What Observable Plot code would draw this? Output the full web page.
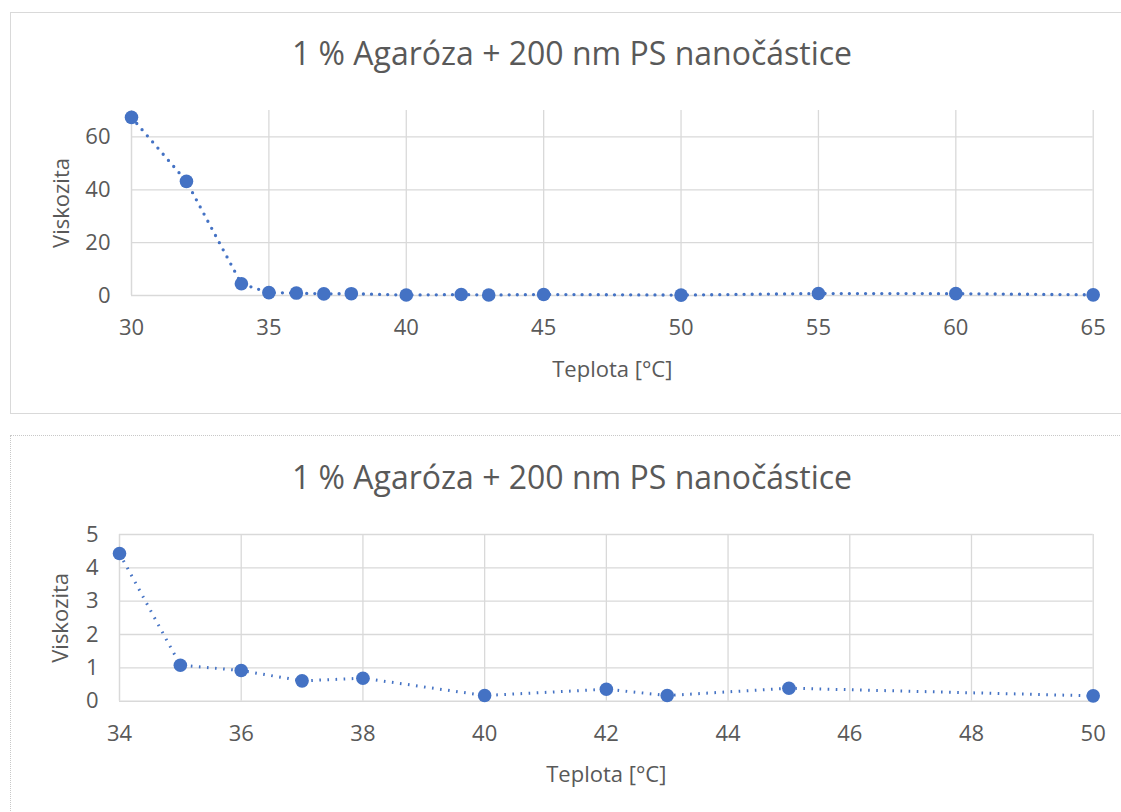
<!DOCTYPE html>
<html><head><meta charset="utf-8">
<script src="https://cdn.jsdelivr.net/npm/d3@7"></script>
<script src="https://cdn.jsdelivr.net/npm/@observablehq/plot@0.6"></script>
<style>
html,body{margin:0;padding:0;background:#fff;width:1121px;height:812px;overflow:hidden;position:relative;font-family:"Open Sans",sans-serif;}
#box1{position:absolute;left:10px;top:12px;width:1140px;height:400px;border:1px solid #d9d9d9;}
#box2{position:absolute;left:10px;top:435px;width:1140px;height:420px;border:1px dotted #c8c8c8;}
.title{position:absolute;left:10px;width:1124px;text-align:center;font-size:32px;line-height:32px;color:#595959;white-space:nowrap;}
.chart{position:absolute;left:0;}
</style></head><body>
<div id="box1"></div>
<div id="box2"></div>
<div class="title" style="top:36.6px">1 % Agaróza + 200 nm PS nanočástice</div>
<div class="title" style="top:460.6px">1 % Agaróza + 200 nm PS nanočástice</div>
<div class="chart" id="c1" style="top:90px"></div>
<div class="chart" id="c2" style="top:505px"></div>
<script>
// Data
const teplota   = [30, 32, 34, 35, 36, 37, 38, 40, 42, 43, 45, 50, 55, 60, 65];
const viskozita = [67.4, 43.2, 4.43, 1.08, 0.92, 0.61, 0.69, 0.17, 0.36, 0.17, 0.39, 0.16, 0.75, 0.7, 0.25];

const title = "1 % Agaróza + 200 nm PS nanočástice";
const xLabel = "Teplota [°C]";
const yLabel = "Viskozita";

// Top chart ticks
const xTicksTop = [30, 35, 40, 45, 50, 55, 60, 65];
const yTicksTop = [0, 20, 40, 60];
const yMaxTop = 70;
// Bottom chart ticks
const xTicksBottom = [34, 36, 38, 40, 42, 44, 46, 48, 50];
const yTicksBottom = [0, 1, 2, 3, 4, 5];

const data = teplota.map((t, i) => ({t, v: viskozita[i]}));
const dataBottom = data.filter(d => d.t >= xTicksBottom[0] && d.t <= xTicksBottom[xTicksBottom.length - 1]);

const BLUE = "#4472C4", GRID = "#d9d9d9", TEXT = "#595959";
const style = {fontFamily: "'Open Sans', sans-serif", fontSize: "22px", color: TEXT, background: "transparent", overflow: "visible"};

function chart({rows, xTicks, yTicks, yMax, gridY, height, mt, mb, ml, xLabelOffset, yLabelOffset, dash, lineWidth, linecap}) {
  return Plot.plot({
    width: 1121, height,
    marginLeft: ml, marginRight: 28.3, marginTop: mt, marginBottom: mb,
    style,
    x: {domain: [xTicks[0], xTicks[xTicks.length - 1]]},
    y: {domain: [0, yMax]},
    marks: [
      Plot.ruleY(gridY, {stroke: GRID, strokeWidth: 1.3}),
      Plot.ruleX(xTicks.slice(1), {stroke: GRID, strokeWidth: 1.3}),
      Plot.ruleY([yTicks[0]], {stroke: GRID, strokeWidth: 1.5}),
      Plot.ruleX([xTicks[0]], {stroke: GRID, strokeWidth: 1.5}),
      Plot.line(rows, {x: "t", y: "v", stroke: BLUE, strokeWidth: lineWidth, strokeDasharray: dash, strokeLinecap: linecap}),
      Plot.dot(rows, {x: "t", y: "v", r: 6.8, fill: BLUE, stroke: "none"}),
      Plot.axisX({ticks: xTicks, tickSize: 0, tickPadding: 24, tickFormat: d => String(d), label: xLabel, labelAnchor: "center", labelOffset: xLabelOffset, labelArrow: "none"}),
      Plot.axisY({ticks: yTicks, tickSize: 0, tickPadding: 21, tickFormat: d => String(d), label: yLabel, labelAnchor: "center", labelOffset: yLabelOffset, labelArrow: "none"})
    ]
  });
}

document.getElementById("c1").append(chart({
  rows: data, xTicks: xTicksTop, yTicks: yTicksTop, yMax: yMaxTop, gridY: yTicksTop.slice(1),
  height: 300, mt: 20, mb: 95, ml: 131, xLabelOffset: 81.3, yLabelOffset: 77.9,
  dash: "0 8.1", lineWidth: 3.3, linecap: "round"
}));

document.getElementById("c2").append(chart({
  rows: dataBottom, xTicks: xTicksBottom, yTicks: yTicksBottom, yMax: yTicksBottom[yTicksBottom.length - 1], gridY: yTicksBottom.slice(1),
  height: 307, mt: 29, mb: 111.3, ml: 119, xLabelOffset: 80.3, yLabelOffset: 66.9,
  dash: "1.6 6.5", lineWidth: 3, linecap: "butt"
}));
</script>
</body></html>
